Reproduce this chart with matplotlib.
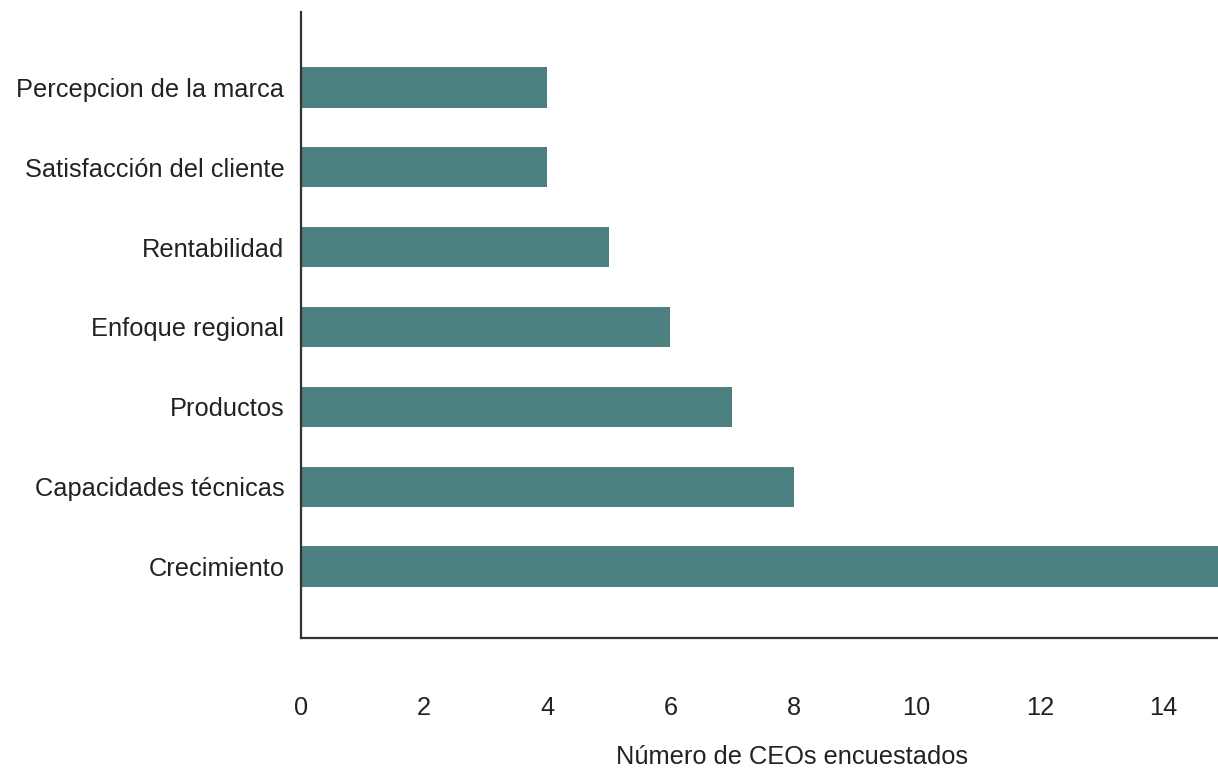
import matplotlib
matplotlib.use('Agg')
import matplotlib.pyplot as plt

categories = ['Crecimiento', 'Capacidades técnicas', 'Productos', 'Enfoque regional',
              'Rentabilidad', 'Satisfacción del cliente', 'Percepcion de la marca']
values = [15, 8, 7, 6, 5, 4, 4]
xticks = [0, 2, 4, 6, 8, 10, 12, 14]

plt.rcParams['font.family'] = ['Liberation Sans', 'DejaVu Sans']

fig = plt.figure(figsize=(12.18, 7.7), dpi=100)
ax = fig.add_axes([301/1218, 132/770, (1224.6-301)/1218, (758-132)/770])

ax.barh(range(len(categories)), values, height=0.51, color='#4d8080')
ax.set_yticks(range(len(categories)))
ax.set_yticklabels(categories, fontsize=18.3, color='#222222')
ax.set_xticks(xticks)
ax.set_xticklabels([str(t) for t in xticks], fontsize=18.3, color='#222222')
ax.set_xlim(0, 15)
ax.set_ylim(-0.89, 6.94)
ax.tick_params(axis='x', length=0, pad=42)
ax.tick_params(axis='y', length=0, pad=12)

for s in ['top', 'right']:
    ax.spines[s].set_visible(False)
for s in ['left', 'bottom']:
    ax.spines[s].set_color('#333333')
    ax.spines[s].set_linewidth(1.6)

ax.set_xlabel('Número de CEOs encuestados', fontsize=18.3, color='#222222')
ax.xaxis.set_label_coords((792-301)/(1224.6-301), -(757-638)/(758-132), transform=ax.transAxes)
ax.xaxis.label.set_va('center')

fig.savefig('out.png', dpi=100)
